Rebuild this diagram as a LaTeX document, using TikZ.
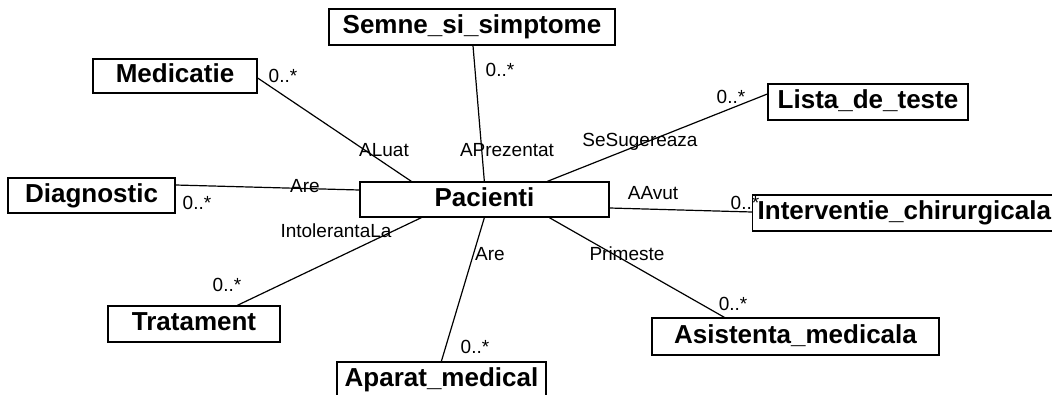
\documentclass[tikz,border=0pt]{standalone}
\usepackage{fontspec}
\setmainfont{Liberation Sans}
\begin{document}
\begin{tikzpicture}[x=1pt,y=-1pt,
  cls/.style={draw=black, line width=1.3pt, fill=white, inner sep=0pt,
    font=\fontsize{26}{31}\selectfont\bfseries,
    text height=18.6pt, text depth=5.4pt, minimum height=35pt},
  assoc/.style={draw=black, line width=1.2pt},
  lbl/.style={inner sep=0pt, font=\fontsize{19}{23}\selectfont,
    text height=13.6pt, text depth=0pt}]
\useasboundingbox (0,0) rectangle (1052,394);
\clip (0,0) rectangle (1052,394);
\fill[white] (0,0) rectangle (1052,394);

% classes
\node[cls, minimum width=286pt, minimum height=36pt] (sem) at (472,27) {Semne\_si\_simptome};
\node[cls, minimum width=164pt, minimum height=34pt] (med) at (175,76) {Medicatie};
\node[cls, minimum width=200pt, minimum height=36pt] (lst) at (868,102) {Lista\_de\_teste};
\node[cls, minimum width=167pt] (dia) at (91.5,195.5) {Diagnostic};
\node[cls, minimum width=249pt] (pac) at (484.5,199.5) {Pacienti};
\node[cls, anchor=west, text width=300pt, align=left, inner xsep=5pt,
      minimum height=36pt] (int) at (752,213) {Interventie\_chirurgicala};
\node[cls, minimum width=172pt, minimum height=36pt] (trt) at (194,324) {Tratament};
\node[cls, minimum width=287pt, minimum height=37pt] (asi) at (795.5,336.5) {Asistenta\_medicala};
\node[cls, minimum width=209pt, minimum height=36pt] (apa) at (441.5,380) {Aparat\_medical};

% associations
\draw[assoc] ([yshift=-2pt]med.east) -- ([xshift=52pt]pac.north west);
\draw[assoc] ([xshift=1pt]sem.south) -- ([xshift=125pt]pac.north west);
\draw[assoc] ([yshift=8pt]lst.west) -- ([xshift=188pt]pac.north west);
\draw[assoc] ([yshift=10.5pt]dia.east) -- ([yshift=9.5pt]pac.west);
\draw[assoc] ([yshift=1pt]int.west) -- ([yshift=-8.5pt]pac.east);
\draw[assoc] ([xshift=130pt]trt.north west) -- ([xshift=62pt]pac.south west);
\draw[assoc] ([xshift=105pt]apa.north west) -- ([xshift=125pt]pac.south west);
\draw[assoc] ([xshift=73pt]asi.north west) -- ([xshift=190pt]pac.south west);

% role names
\node[lbl] (rAluat) at (384,150) {ALuat};
\node[lbl] (rAprez) at (507,150) {APrezentat};
\node[lbl] (rSug) at (640,140) {SeSugereaza};
\node[lbl] (rAreD) at (305,186) {Are};
\node[lbl] (rAvut) at (653,193) {AAvut};
\node[lbl] (rIntol) at (336,231) {IntolerantaLa};
\node[lbl] (rAreA) at (490,254) {Are};
\node[lbl] (rPrim) at (627,254) {Primeste};

% multiplicities
\node[lbl] (mSem) at (500,70) {0..*};
\node[lbl] (mMed) at (283,76) {0..*};
\node[lbl] (mLst) at (731,97) {0..*};
\node[lbl] (mDia) at (197,203) {0..*};
\node[lbl] (mInt) at (745,203) {0..*};
\node[lbl] (mTrt) at (227,285) {0..*};
\node[lbl] (mApa) at (475,347) {0..*};
\node[lbl] (mAsi) at (733,304) {0..*};
\end{tikzpicture}
\end{document}
